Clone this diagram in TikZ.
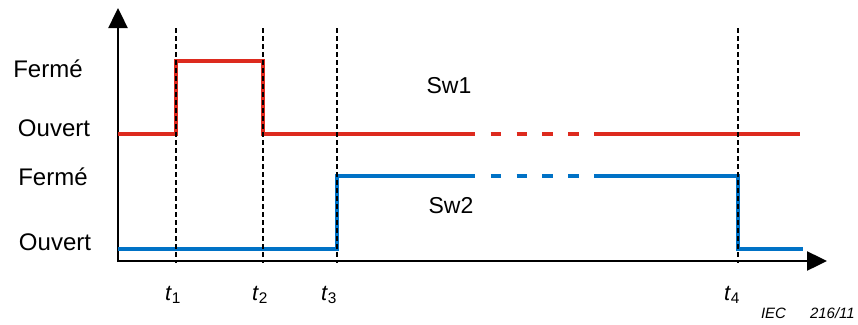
\documentclass[tikz,border=0pt]{standalone}
\usepackage{fontspec}
\setmainfont{Liberation Sans}
\usetikzlibrary{arrows.meta}
\definecolor{swred}{RGB}{221,42,30}
\definecolor{swblue}{RGB}{0,114,198}
\tikzset{
    timing diagram/.style = {x=1pt, y=-1pt},
    axis/.style       = {line width=2.4pt,
                         -{Triangle[length=20pt, width=19pt]}},
    marker/.style     = {line width=1.8pt, dash pattern=on 5pt off 3pt},
    wave/.style       = {line width=4pt, line join=miter},
    redwave/.style    = {wave, draw=swred},
    bluewave/.style   = {wave, draw=swblue},
    gapdash/.style    = {dash pattern=on 10.3pt off 15.5pt},
    level/.style      = {anchor=base, inner sep=0pt,
                         font=\fontsize{24}{26}\selectfont},
    swname/.style     = {level, font=\fontsize{23}{25}\selectfont},
    tlabel/.style     = {anchor=base, inner sep=0pt,
                         font=\fontsize{22}{24}\selectfont},
    ref/.style        = {anchor=base east, inner sep=0pt,
                         font=\fontsize{15}{17}\selectfont\itshape}
}
\def\origx{118}
\def\origy{261}
\def\redlow{134}
\def\redhigh{61}
\def\bluelow{249}
\def\bluehigh{176}

\begin{document}
\begin{tikzpicture}[timing diagram]
\useasboundingbox (0,0) rectangle (858,324);

% ================= Axes =================
\coordinate (O) at (\origx,\origy);
\coordinate (ybase) at (\origx,262);
\coordinate (ytip) at (\origx,8);
\coordinate (xtip) at (827,\origy);
\draw[axis] (ybase) -- (ytip);
\draw[axis] (O) -- (xtip);

% ================= Levels =================
\node[level] (ferme1)  at (48,77)  {Fermé};
\node[level] (ouvert1) at (54,136) {Ouvert};
\node[level] (ferme2)  at (53,185) {Fermé};
\node[level] (ouvert2) at (55,250) {Ouvert};

% ================= Sw1 =================
\coordinate (r0) at (\origx,\redlow);
\coordinate (rgap1) at (465,\redlow);
\coordinate (rgap2) at (594,\redlow);
\coordinate (rend) at (800,\redlow);
\draw[redwave] (r0) -- (176,\redlow) -- (176,\redhigh) -- (263,\redhigh)
    -- (263,\redlow) -- (rgap1);
\draw[redwave, gapdash] (rgap1) -- (rgap2);
\draw[redwave] (rgap2) -- (rend);
\node[swname] (sw1) at (449,93) {Sw1};

% ================= Sw2 =================
\coordinate (b0) at (\origx,\bluelow);
\coordinate (bgap1) at (465,\bluehigh);
\coordinate (bgap2) at (594,\bluehigh);
\coordinate (bend) at (803,\bluelow);
\draw[bluewave] (b0) -- (337,\bluelow) -- (337,\bluehigh) -- (bgap1);
\draw[bluewave, gapdash] (bgap1) -- (bgap2);
\draw[bluewave] (bgap2) -- (738,\bluehigh) -- (738,\bluelow) -- (bend);
\node[swname] (sw2) at (451,213) {Sw2};

% ================= Time markers =================
\foreach \n/\x/\lx in {1/176/173, 2/263/260, 3/337/329, 4/738/732} {
    \coordinate (m\n top) at (\x,28);
    \coordinate (m\n bot) at (\x,263);
    \draw[marker] (m\n top) -- (m\n bot);
    \node[tlabel] (t\n) at (\lx,300) {\textit{t}\textsubscript{\n}};
}

\node[ref] (iec) at (855,318) {IEC\hspace{1.6em}216/11};

\end{tikzpicture}
\end{document}
